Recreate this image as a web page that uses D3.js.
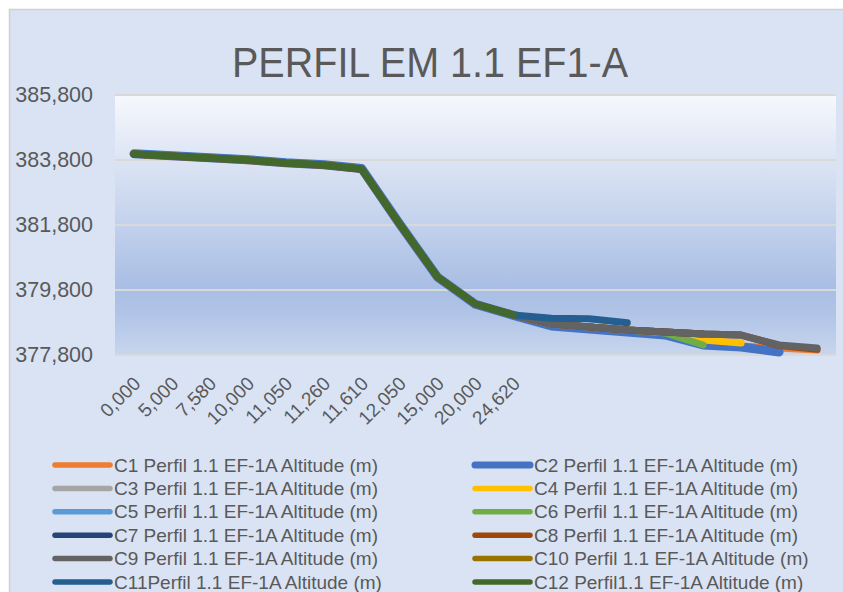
<!DOCTYPE html>
<html>
<head>
<meta charset="utf-8">
<script src="https://cdn.jsdelivr.net/npm/d3@7"></script>
<style>
  body { margin: 0; background: #ffffff; }
  svg { display: block; }
</style>
</head>
<body>
<svg id="chart" width="843" height="592"></svg>
<script>
// categories (distance, m) - the last ones have no label in the original
const categories = ["0,000", "5,000", "7,580", "10,000", "11,050", "11,260", "11,610",
  "12,050", "15,000", "20,000", "24,620", "", "", "", "", "", "", "", ""];

const yTicks = [377.8, 379.8, 381.8, 383.8, 385.8];

const seriesNames = [
  "C1 Perfil 1.1 EF-1A Altitude (m)", "C2 Perfil 1.1 EF-1A Altitude (m)",
  "C3 Perfil 1.1 EF-1A Altitude (m)", "C4 Perfil 1.1 EF-1A Altitude (m)",
  "C5 Perfil 1.1 EF-1A Altitude (m)", "C6 Perfil 1.1 EF-1A Altitude (m)",
  "C7 Perfil 1.1 EF-1A Altitude (m)", "C8 Perfil 1.1 EF-1A Altitude (m)",
  "C9 Perfil 1.1 EF-1A Altitude (m)", "C10 Perfil 1.1 EF-1A Altitude (m)",
  "C11Perfil 1.1 EF-1A Altitude (m)", "C12 Perfil1.1 EF-1A Altitude (m)"
];

const seriesColors = ["#ED7D31", "#4472C4", "#A5A5A5", "#FFC000", "#5B9BD5", "#70AD47",
  "#264478", "#9E480E", "#636363", "#997300", "#255E91", "#43682B"];

// altitude values
const c1 = [383.975, 383.910, 383.845, 383.780, 383.690, 383.630, 383.505, 381.820, 380.190, 379.360, 379.020,
  378.692, 378.600, 378.508, 378.415, 378.138, 378.077, 378.015, 377.954];
const c2 = [383.990, 383.930, 383.870, 383.810, 383.715, 383.655, 383.540, 381.835, 380.195, 379.360, 379.020,
  378.692, 378.600, 378.508, 378.415, 378.108, 378.046, 377.892];
const c3 = [383.985, 383.923, 383.862, 383.800, 383.708, 383.646, 383.523, 381.831, 380.200, 379.369, 379.031,
  378.754, 378.662, 378.569, 378.508, 378.446, 378.415, 378.108];
const c4 = [383.985, 383.923, 383.862, 383.800, 383.708, 383.646, 383.523, 381.831, 380.200, 379.369, 379.031,
  378.754, 378.662, 378.569, 378.508, 378.262, 378.169];
const c5 = [383.985, 383.923, 383.862, 383.800, 383.708, 383.646, 383.523, 381.831, 380.200, 379.369, 379.031,
  378.754, 378.662, 378.569, 378.508, 378.446, 378.415];
const c6 = [383.985, 383.923, 383.862, 383.800, 383.708, 383.646, 383.523, 381.831, 380.200, 379.369, 379.031,
  378.754, 378.662, 378.569, 378.480, 378.108];
const c7 = [383.985, 383.923, 383.862, 383.800, 383.708, 383.646, 383.523, 381.831, 380.200, 379.369, 379.031,
  378.754, 378.662, 378.569, 378.508, 378.446];
const c8 = [383.980, 383.915, 383.850, 383.790, 383.700, 383.640, 383.515, 381.825, 380.195, 379.365, 379.025,
  378.754, 378.662, 378.569, 378.508, 378.446, 378.415, 378.090, 377.975];
const c9 = [383.985, 383.923, 383.862, 383.800, 383.708, 383.646, 383.523, 381.831, 380.200, 379.369, 379.031,
  378.754, 378.662, 378.569, 378.508, 378.446, 378.415, 378.108, 378.015];
const c10 = [383.985, 383.923, 383.862, 383.800, 383.708, 383.646, 383.523, 381.831, 380.200, 379.369, 379.031];
const c11 = [383.985, 383.923, 383.862, 383.800, 383.708, 383.646, 383.523, 381.831, 380.200, 379.369, 379.031,
  378.930, 378.915, 378.790];
const c12 = [383.985, 383.923, 383.862, 383.800, 383.708, 383.646, 383.523, 381.831, 380.200, 379.369, 379.031];

const seriesValues = [c1, c2, c3, c4, c5, c6, c7, c8, c9, c10, c11, c12];

const svg = d3.select("#chart");
const width = +svg.attr("width");
const height = +svg.attr("height");

const plot = { left: 115, right: 836, top: 95, bottom: 355 };
const textColor = "#595959";

const ptBR = d3.formatLocale({ decimal: ",", thousands: ".", grouping: [3], currency: ["R$", ""] });
const fmt = ptBR.format(".3f");

// gradients
const defs = svg.append("defs");
const grad = defs.append("linearGradient")
  .attr("id", "plotgrad")
  .attr("x1", 0).attr("y1", 0).attr("x2", 0).attr("y2", 1);
grad.append("stop").attr("offset", "0%").style("stop-color", "#F6F8FC");
grad.append("stop").attr("offset", "74%").style("stop-color", "#A9BEE4");
grad.append("stop").attr("offset", "83%").style("stop-color", "#AFC3E6");
grad.append("stop").attr("offset", "100%").style("stop-color", "#C7D6EE");

// chart area background + border
svg.append("rect")
  .attr("x", 9.5).attr("y", 9.5)
  .attr("width", width).attr("height", height)
  .attr("fill", "#DAE3F3")
  .attr("stroke", "#D0D0D0")
  .attr("stroke-width", 1.5);

// plot area
svg.append("rect")
  .attr("x", plot.left).attr("y", plot.top)
  .attr("width", plot.right - plot.left).attr("height", plot.bottom - plot.top)
  .attr("fill", "url(#plotgrad)");

/*
/   Scales
*/

const x = d3.scalePoint()
  .domain(d3.range(categories.length))
  .range([plot.left, plot.right])
  .padding(0.5);

const y = d3.scaleLinear()
  .domain([377.8, 385.8])
  .range([plot.bottom, plot.top]);

// grid lines
svg.append("g")
  .selectAll("line")
  .data(yTicks)
  .join("line")
  .attr("x1", plot.left).attr("x2", plot.right)
  .attr("y1", d => y(d)).attr("y2", d => y(d))
  .attr("stroke", "#D9D9D9")
  .attr("stroke-width", 2);

// y axis labels
const yAxis = svg.append("g")
  .attr("transform", `translate(${plot.left - 22},0)`)
  .call(d3.axisLeft(y).tickValues(yTicks).tickFormat(fmt).tickSize(0).tickPadding(0));
yAxis.select(".domain").remove();
yAxis.selectAll("text")
  .attr("fill", textColor)
  .style("font-family", "'Liberation Sans', Arial, sans-serif")
  .style("font-size", "21.5px");

// x axis labels (rotated)
svg.append("g")
  .selectAll("text")
  .data(categories.map((c, i) => ({ c, i })).filter(d => d.c !== ""))
  .join("text")
  .attr("transform", d => `translate(${x(d.i) + 3},${plot.bottom + 25}) rotate(-45)`)
  .attr("text-anchor", "end")
  .attr("dy", "0.35em")
  .attr("fill", textColor)
  .style("font-family", "'Liberation Sans', Arial, sans-serif")
  .style("font-size", "19px")
  .text(d => d.c);

/*
/   Lines
*/

const line = d3.line()
  .x((d, i) => x(i))
  .y(d => y(d));

svg.append("g")
  .selectAll("path")
  .data(seriesValues)
  .join("path")
  .attr("d", line)
  .attr("fill", "none")
  .attr("stroke", (d, i) => seriesColors[i])
  .attr("stroke-width", (d, i) => i === 1 ? 9 : 7)
  .attr("stroke-linecap", "round")
  .attr("stroke-linejoin", "round");

// title
svg.append("text")
  .attr("x", 430)
  .attr("y", 77)
  .attr("text-anchor", "middle")
  .attr("textLength", 396)
  .attr("lengthAdjust", "spacingAndGlyphs")
  .attr("fill", textColor)
  .style("font-family", "'Liberation Sans', sans-serif")
  .style("font-size", "42px")
  .text("PERFIL EM 1.1 EF1-A");

/*
/   Legend
*/

const legend = svg.append("g")
  .selectAll("g")
  .data(seriesNames)
  .join("g")
  .attr("transform", (d, i) => {
    const col = i % 2;
    const row = Math.floor(i / 2);
    return `translate(${col === 0 ? 55 : 475},${465 + row * 23.4})`;
  });

legend.append("line")
  .attr("x1", 0).attr("x2", 55)
  .attr("y1", 0).attr("y2", 0)
  .attr("stroke", (d, i) => seriesColors[i])
  .attr("stroke-width", (d, i) => i === 1 ? 7 : 5.5)
  .attr("stroke-linecap", "round");

legend.append("text")
  .attr("x", 59)
  .attr("dy", "0.35em")
  .attr("fill", textColor)
  .style("font-family", "'Liberation Sans', Arial, sans-serif")
  .style("font-size", "19px")
  .text(d => d);
</script>
</body>
</html>
